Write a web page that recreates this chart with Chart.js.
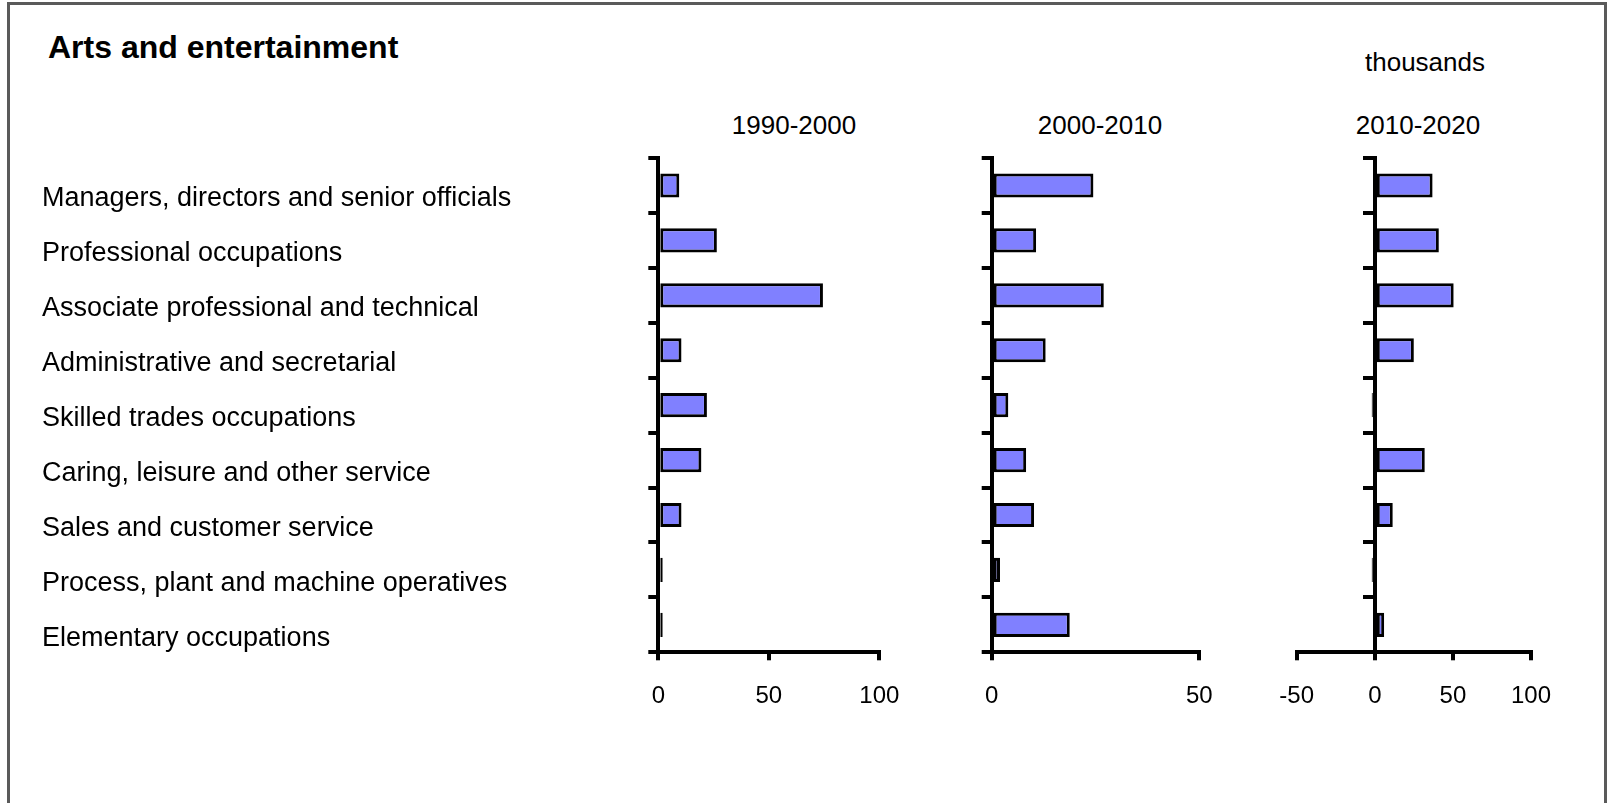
<!DOCTYPE html>
<html>
<head>
<meta charset="utf-8">
<script src="https://cdn.jsdelivr.net/npm/chart.js@4.4.1/dist/chart.umd.min.js"></script>
<style>
html,body{margin:0;padding:0;background:#fff;overflow:hidden;width:1609px;height:803px;}
#frame{position:absolute;left:7px;top:2px;width:1600px;height:900px;border:3px solid #5a5a5a;box-sizing:border-box;}
canvas{position:absolute;left:0;top:0;}
.t{position:absolute;font-family:"Liberation Sans",Arial,sans-serif;color:#000;white-space:nowrap;}
.c{transform:translate(-50%,-50%);line-height:1;font-size:26px;}
</style>
</head>
<body>
<div id="frame"></div>
<div class="t" style="left:48px;top:31px;font-size:32px;line-height:32px;font-weight:bold;">Arts and entertainment</div>
<div class="t c" style="left:1425px;top:62px;">thousands</div>
<div id="periodLabels"></div>
<canvas id="c0" width="1609" height="803"></canvas>
<canvas id="c1" width="1609" height="803"></canvas>
<canvas id="c2" width="1609" height="803"></canvas>
<script>
// ---- data ----
const categories = [
  'Managers, directors and senior officials',
  'Professional occupations',
  'Associate professional and technical',
  'Administrative and secretarial',
  'Skilled trades occupations',
  'Caring, leisure and other service',
  'Sales and customer service',
  'Process, plant and machine operatives',
  'Elementary occupations'
];
const periods = ['1990-2000', '2000-2010', '2010-2020'];
const change1990_2000 = [9.5, 26.5, 74.5, 10.5, 22, 19.5, 10.5, 2, 2];
const change2000_2010 = [24.5, 10.7, 27, 13, 4, 8.3, 10.2, 2, 18.8];
const change2010_2020 = [37, 41, 50.5, 25, -2, 32, 11.5, -2, 6];
const axisMins = [0, 0, -50];
const axisMaxs = [100, 50, 100];
const tickStep = 50;

// ---- layout (pixels) ----
const W = 1609, H = 803;
const plotTop = 158, plotBottom = 652.3;
const plotLefts = [658.3, 991.7, 1296.7];
const plotRights = [879.3, 1199.3, 1521];
const periodLabelX = [794, 1100, 1418];
const periodLabelY = 125;
const catLabelLeft = 42;
const FONT = '"Liberation Sans", Arial, sans-serif';

const series = [change1990_2000, change2000_2010, change2010_2020];

const pl = document.getElementById('periodLabels');
periods.forEach((p, i) => {
  const d = document.createElement('div');
  d.className = 't c';
  d.style.left = periodLabelX[i] + 'px';
  d.style.top = periodLabelY + 'px';
  d.textContent = p;
  pl.appendChild(d);
});

const xAxisH = 60;
const yTick = 10;

series.forEach((vals, i) => {
  const isFirst = i === 0;
  const isLast = i === 2;
  const yWidth = isFirst ? plotLefts[0] - catLabelLeft : yTick;
  const padding = {
    top: plotTop,
    bottom: H - plotBottom - xAxisH,
    left: isLast ? plotLefts[i] : plotLefts[i] - yWidth,
    right: isLast ? W - plotRights[i] - yWidth : W - plotRights[i]
  };
  new Chart(document.getElementById('c' + i), {
    type: 'bar',
    data: {
      labels: categories,
      datasets: [{
        label: periods[i],
        data: vals,
        backgroundColor: '#8080FF',
        borderColor: '#000000',
        borderWidth: 3,
        borderSkipped: false,
        barPercentage: 0.44,
        categoryPercentage: 1
      }]
    },
    options: {
      indexAxis: 'y',
      responsive: false,
      animation: false,
      devicePixelRatio: 1,
      layout: { padding },
      plugins: { legend: { display: false }, tooltip: { enabled: false }, title: { display: false } },
      scales: {
        x: {
          type: 'linear',
          position: 'bottom',
          min: axisMins[i],
          max: axisMaxs[i],
          afterFit: (s) => { s.height = xAxisH; },
          ticks: {
            stepSize: tickStep,
            color: '#000',
            font: { family: FONT, size: 24 },
            padding: 22,
            maxRotation: 0,
            autoSkip: false
          },
          grid: {
            display: true,
            drawOnChartArea: false,
            drawTicks: true,
            tickLength: 8,
            lineWidth: 4,
            color: '#000'
          },
          border: { display: true, color: '#000', width: 4 }
        },
        y: {
          type: 'category',
          position: isLast ? { x: 0 } : 'left',
          offset: true,
          afterFit: (s) => { s.width = yWidth; },
          ticks: {
            display: isFirst,
            color: '#000',
            font: { family: FONT, size: 27 },
            crossAlign: 'far',
            labelOffset: 13.5,
            autoSkip: false
          },
          grid: {
            display: true,
            offset: true,
            drawOnChartArea: false,
            drawTicks: true,
            tickLength: yTick,
            lineWidth: 4,
            color: '#000'
          },
          border: { display: true, color: '#000', width: 4 }
        }
      }
    }
  });
});
</script>
</body>
</html>
